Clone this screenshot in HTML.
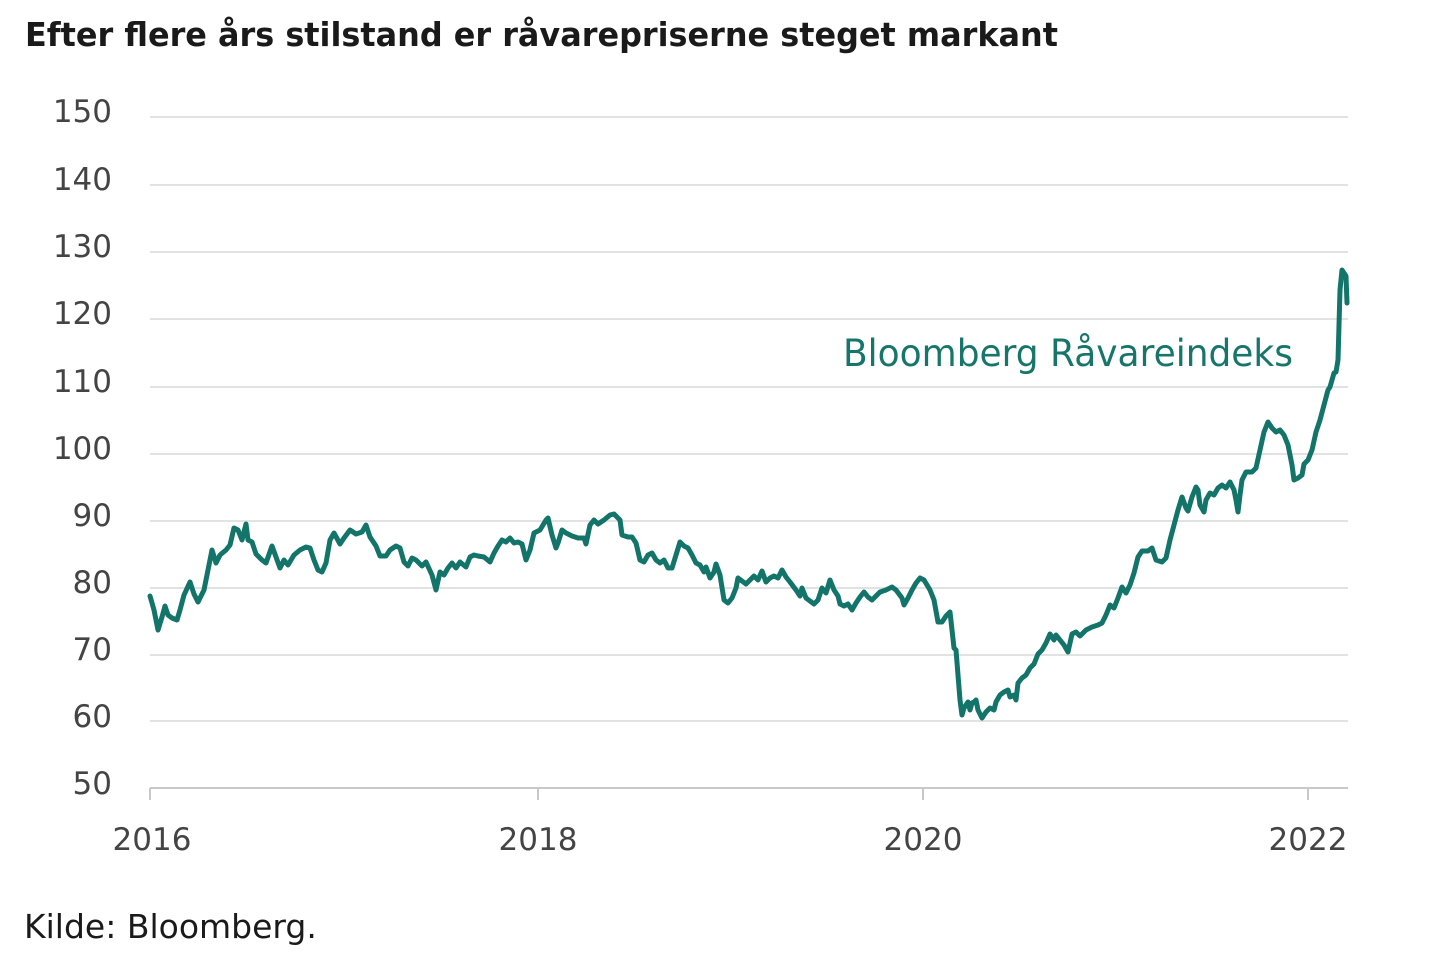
<!DOCTYPE html>
<html><head><meta charset="utf-8"><style>
html,body{margin:0;padding:0;background:#fff;}
svg{display:block;font-family:"DejaVu Sans","Liberation Sans",sans-serif;}
</style></head><body>
<svg width="1440" height="959" viewBox="0 0 1440 959" xmlns="http://www.w3.org/2000/svg">
<text x="25" y="46" font-size="33" font-weight="bold" fill="#1a1a1a" textLength="1033" lengthAdjust="spacingAndGlyphs">Efter flere års stilstand er råvarepriserne steget markant</text>
<g stroke="#d9d9d9" stroke-width="1.5">
<line x1="150" x2="1348" y1="117" y2="117"/><line x1="150" x2="1348" y1="185" y2="185"/>
<line x1="150" x2="1348" y1="252" y2="252"/><line x1="150" x2="1348" y1="319" y2="319"/>
<line x1="150" x2="1348" y1="387" y2="387"/><line x1="150" x2="1348" y1="454" y2="454"/>
<line x1="150" x2="1348" y1="521" y2="521"/><line x1="150" x2="1348" y1="588" y2="588"/>
<line x1="150" x2="1348" y1="655" y2="655"/><line x1="150" x2="1348" y1="721" y2="721"/>
</g>
<line x1="150" x2="1348" y1="788" y2="788" stroke="#c8c8c8" stroke-width="2"/>
<g stroke="#c8c8c8" stroke-width="2"><line x1="150" x2="150" y1="788" y2="800"/><line x1="538" x2="538" y1="788" y2="800"/><line x1="923" x2="923" y1="788" y2="800"/><line x1="1308" x2="1308" y1="788" y2="800"/></g>
<g font-size="31" fill="#444" text-anchor="end">
<text x="112" y="122">150</text><text x="112" y="190">140</text><text x="112" y="257">130</text>
<text x="112" y="324">120</text><text x="112" y="392">110</text><text x="112" y="459">100</text>
<text x="112" y="526">90</text><text x="112" y="593">80</text><text x="112" y="660">70</text>
<text x="112" y="727">60</text><text x="112" y="794">50</text>
</g>
<g font-size="31" fill="#444" text-anchor="middle">
<text x="152" y="850">2016</text><text x="538" y="850">2018</text><text x="923" y="850">2020</text><text x="1308" y="850">2022</text>
</g>
<text x="843" y="366" font-size="37" fill="#17766a" textLength="450" lengthAdjust="spacingAndGlyphs">Bloomberg Råvareindeks</text>
<polyline fill="none" stroke="#13746a" stroke-width="5" stroke-linejoin="round" stroke-linecap="round" points="150,596 154,610 158,630 162,617 165,606 168,615 172,618 177,620 180,610 184,595 190,582 194,594 198,602 204,590 208,570 212,550 216,563 220,555 226,550 230,545 234,528 238,530 242,540 246,524 248,540 252,542 256,554 262,560 266,563 272,546 276,557 280,568 284,560 288,565 294,555 300,550 306,547 310,548 314,560 318,570 322,572 326,563 330,540 334,533 340,544 344,538 350,530 356,534 362,532 366,525 370,537 376,546 380,556 386,556 390,550 396,546 400,548 404,562 408,566 412,558 416,560 422,566 426,562 432,575 436,590 440,572 444,575 448,568 452,563 456,568 460,562 466,567 470,557 474,555 478,556 484,557 490,562 494,553 498,546 502,540 506,542 510,538 514,543 518,542 522,544 526,560 530,550 534,533 540,530 546,520 548,518 552,535 556,548 558,543 562,530 566,533 572,536 578,538 584,538 586,544 590,525 594,520 598,524 604,520 610,515 614,514 620,520 622,535 628,537 632,537 636,543 640,560 644,562 648,555 652,553 656,560 660,563 664,560 668,568 672,568 676,555 680,542 684,546 688,548 692,555 696,563 700,565 704,572 706,567 710,578 714,572 716,564 720,575 724,600 728,603 732,598 736,588 738,578 742,581 746,584 750,580 754,576 758,580 762,571 766,582 770,578 774,576 778,578 782,570 786,577 790,582 796,590 800,596 802,588 806,598 810,601 814,604 818,600 822,588 826,593 830,580 834,590 838,596 840,604 844,606 848,604 852,610 856,603 860,597 864,592 868,597 872,600 876,596 880,592 886,590 892,587 896,590 902,598 904,605 908,598 912,590 916,583 920,578 924,580 930,590 934,600 938,622 942,622 946,616 950,612 954,648 956,650 958,675 960,700 962,715 964,708 968,702 970,710 972,703 974,702 976,700 978,710 982,718 986,712 990,708 994,710 996,702 1000,695 1004,692 1008,690 1010,697 1014,695 1016,700 1018,683 1022,678 1026,675 1030,668 1034,664 1038,654 1042,650 1046,643 1050,634 1054,640 1056,635 1060,640 1064,645 1068,652 1072,634 1076,632 1080,636 1086,630 1092,627 1098,625 1102,623 1106,615 1110,605 1114,608 1118,598 1122,587 1126,593 1130,585 1134,573 1138,557 1142,551 1148,551 1152,548 1156,560 1162,562 1166,558 1170,540 1174,525 1178,510 1182,497 1186,508 1188,511 1192,497 1196,487 1198,490 1200,505 1204,512 1206,500 1210,493 1214,495 1218,488 1222,485 1226,488 1230,482 1234,490 1236,500 1238,512 1240,495 1242,480 1246,472 1252,472 1256,468 1260,450 1264,432 1268,422 1272,428 1276,432 1280,430 1284,435 1288,445 1292,465 1294,480 1298,478 1302,475 1304,464 1308,460 1312,450 1316,432 1320,420 1324,405 1328,390 1330,387 1334,373 1336,372 1338,360 1340,290 1342,270 1344,273 1346,276 1347,303"/>
<text x="24" y="938" font-size="33" fill="#1a1a1a">Kilde: Bloomberg.</text>
</svg>
</body></html>
